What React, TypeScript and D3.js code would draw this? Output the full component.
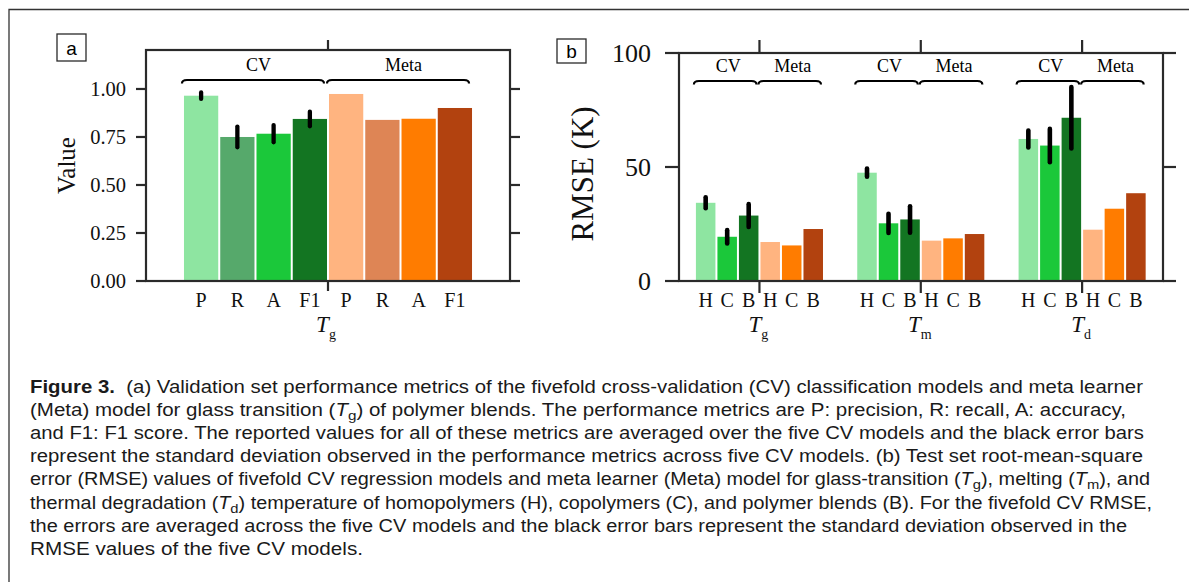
import React from 'react';
import { scaleLinear, format } from 'd3';

// panel a: classification metrics for Tg of polymer blends
const metrics = ['P', 'R', 'A', 'F1'];
const cvMetricValues = [0.965, 0.75, 0.767, 0.844];
const cvMetricErrors = [0.017, 0.054, 0.045, 0.038];
const metaMetricValues = [0.974, 0.839, 0.845, 0.901];
const metricTicks = [0, 0.25, 0.5, 0.75, 1.0];

// panel b: regression RMSE (K) per property, polymer class H / C / B
const properties = ['g', 'm', 'd'];
const polymerTypes = ['H', 'C', 'B'];
const cvRmse = [
  [34.3, 19.4, 28.7],
  [47.5, 25.3, 27.0],
  [62.3, 59.4, 71.6],
];
const cvRmseErrors = [
  [2.4, 2.9, 5.0],
  [1.8, 4.2, 5.8],
  [3.7, 7.3, 13.5],
];
const metaRmse = [
  [17.1, 15.6, 22.8],
  [17.7, 18.7, 20.6],
  [22.5, 31.7, 38.5],
];
const rmseTicks = [0, 50, 100];

const cvMetricColors = ['#8ee5a1', '#56a96b', '#1bc83a', '#137522'];
const metaMetricColors = ['#ffb480', '#de8555', '#ff7c00', '#b2420f'];
const cvTypeColors = ['#8ee5a1', '#1bc83a', '#137522'];
const metaTypeColors = ['#ffb480', '#ff7c00', '#b2420f'];

// caption lines; {sub} marks an italic T with a subscript
type Seg = string | { sub: string };
const captionLines: Seg[][] = [
  ['(a) Validation set performance metrics of the fivefold cross-validation (CV) classification models and meta learner'],
  ['(Meta) model for glass transition (', { sub: 'g' }, ') of polymer blends. The performance metrics are P: precision, R: recall, A: accuracy,'],
  ['and F1: F1 score. The reported values for all of these metrics are averaged over the five CV models and the black error bars'],
  ['represent the standard deviation observed in the performance metrics across five CV models. (b) Test set root-mean-square'],
  ['error (RMSE) values of fivefold CV regression models and meta learner (Meta) model for glass-transition (', { sub: 'g' }, '), melting (', { sub: 'm' }, '), and'],
  ['thermal degradation (', { sub: 'd' }, ') temperature of homopolymers (H), copolymers (C), and polymer blends (B). For the fivefold CV RMSE,'],
  ['the errors are averaged across the five CV models and the black error bars represent the standard deviation observed in the'],
  ['RMSE values of the five CV models.'],
];
const captionLineEnds = [1143, 1126, 1144, 1143, 1150, 1152, 1127, 363];

const SERIF = '"Liberation Serif", "Times New Roman", serif';
const SANS = '"Liberation Sans", Arial, Helvetica, sans-serif';
const INK = '#2a2a2a';
const SPINE = 2.2;

function Brace({ x0, x1, y }: { x0: number; x1: number; y: number }) {
  const d = `M${x0},${y + 3.5} Q${x0},${y} ${x0 + 5},${y} L${x1 - 5},${y} Q${x1},${y} ${x1},${y + 3.5}`;
  return <path d={d} fill="none" stroke="#000" strokeWidth={2.2} />;
}

function PanelA() {
  const left = 146, right = 510, top = 50, bottom = 281;
  const x = scaleLinear().domain([-1.52, 8.52]).range([left, right]);
  const y = scaleLinear().domain([0, 1.203]).range([bottom, top]);
  const pitch = x(1) - x(0);
  const sep = x(3.5);
  const bars = [
    ...cvMetricValues.map((v, i) => ({ v, i, c: cvMetricColors[i], err: cvMetricErrors[i], label: metrics[i] })),
    ...metaMetricValues.map((v, i) => ({ v, i: i + 4, c: metaMetricColors[i], err: 0, label: metrics[i] })),
  ];
  const groups = [
    { name: 'CV', a: -0.5, b: 3.5 },
    { name: 'Meta', a: 3.5, b: 7.5 },
  ];
  return (
    <g>
      <rect x={57} y={34} width={29} height={27} fill="#fff" stroke={INK} strokeWidth={1.3} />
      <text x={71.5} y={48} fontFamily={SANS} fontSize={19} textAnchor="middle" dominantBaseline="central">a</text>

      {bars.map((b) => (
        <rect key={b.i} x={x(b.i) - pitch / 2 + 1} y={y(b.v)} width={pitch - 2} height={bottom - y(b.v)} fill={b.c} />
      ))}
      {bars.filter((b) => b.err > 0).map((b) => (
        <line key={'e' + b.i} x1={x(b.i)} x2={x(b.i)} y1={y(b.v + b.err)} y2={y(b.v - b.err)}
          stroke="#000" strokeWidth={4.3} strokeLinecap="round" />
      ))}

      {groups.map((g) => (
        <g key={g.name}>
          <Brace x0={x(g.a) - 1} x1={x(g.b) - 4} y={80} />
          <text x={(x(g.a) + x(g.b)) / 2 + 3} y={71} fontFamily={SERIF} fontSize={18} textAnchor="middle">{g.name}</text>
        </g>
      ))}

      <rect x={left} y={top} width={right - left} height={bottom - top} fill="none" stroke={INK} strokeWidth={SPINE} />
      {metricTicks.map((t) => (
        <g key={t}>
          <line x1={left - 10} x2={left} y1={y(t)} y2={y(t)} stroke={INK} strokeWidth={SPINE} />
          <line x1={right} x2={right + 10} y1={y(t)} y2={y(t)} stroke={INK} strokeWidth={SPINE} />
          <text x={126} y={y(t)} fontFamily={SERIF} fontSize={20.5} textAnchor="end" dominantBaseline="central" fill="#111">
            {format('.2f')(t)}
          </text>
        </g>
      ))}
      <line x1={sep} x2={sep} y1={top - 10} y2={top} stroke={INK} strokeWidth={SPINE} />
      <line x1={sep} x2={sep} y1={bottom} y2={bottom + 10} stroke={INK} strokeWidth={SPINE} />

      {bars.map((b) => (
        <text key={'l' + b.i} x={x(b.i)} y={307} fontFamily={SERIF} fontSize={20} textAnchor="middle" fill="#111">{b.label}</text>
      ))}
      <text x={sep - 2} y={332} fontFamily={SERIF} fontSize={23} textAnchor="middle" fill="#111">
        <tspan fontStyle="italic">T</tspan>
        <tspan fontSize={14} dy={7}>g</tspan>
      </text>
      <text transform={`translate(75,${(top + bottom) / 2}) rotate(-90)`} fontFamily={SERIF} fontSize={25}
        textAnchor="middle" fill="#111">Value</text>
    </g>
  );
}

function PanelB() {
  const left = 679, right = 1163, top = 53, bottom = 281;
  const x = scaleLinear().domain([-3.74, 18.76]).range([left, right]);
  const y = scaleLinear().domain([0, 100]).range([bottom, top]);
  const pitch = x(1) - x(0);
  const gap = 7.5;
  return (
    <g>
      <rect x={557} y={39} width={29} height={24} fill="#fff" stroke={INK} strokeWidth={1.3} />
      <text x={571.5} y={51} fontFamily={SANS} fontSize={19} textAnchor="middle" dominantBaseline="central">b</text>

      {properties.map((p, gi) => {
        const c = gi * gap;
        const pos = (j: number) => c + j - 2.5;
        const cells = [
          ...polymerTypes.map((t, j) => ({ j, t, v: cvRmse[gi][j], err: cvRmseErrors[gi][j], col: cvTypeColors[j] })),
          ...polymerTypes.map((t, j) => ({ j: j + 3, t, v: metaRmse[gi][j], err: 0, col: metaTypeColors[j] })),
        ];
        const groups = [
          { name: 'CV', a: pos(0) - 0.5, b: pos(2) + 0.5 },
          { name: 'Meta', a: pos(3) - 0.5, b: pos(5) + 0.5 },
        ];
        return (
          <g key={p}>
            {cells.map((d) => (
              <rect key={d.j} x={x(pos(d.j)) - pitch / 2 + 1} y={y(d.v)} width={pitch - 2} height={bottom - y(d.v)} fill={d.col} />
            ))}
            {cells.filter((d) => d.err > 0).map((d) => (
              <line key={'e' + d.j} x1={x(pos(d.j))} x2={x(pos(d.j))} y1={y(d.v + d.err)} y2={y(d.v - d.err)}
                stroke="#000" strokeWidth={4.6} strokeLinecap="round" />
            ))}
            {groups.map((g) => (
              <g key={g.name}>
                <Brace x0={x(g.a) - 1} x1={x(g.b) - 3} y={81} />
                <text x={(x(g.a) + x(g.b)) / 2 + 1} y={72} fontFamily={SERIF} fontSize={18} textAnchor="middle">{g.name}</text>
              </g>
            ))}
            {cells.map((d) => (
              <text key={'l' + d.j} x={x(pos(d.j))} y={307} fontFamily={SERIF} fontSize={20} textAnchor="middle" fill="#111">{d.t}</text>
            ))}
            <line x1={x(c)} x2={x(c)} y1={top - 13} y2={top} stroke={INK} strokeWidth={SPINE} />
            <line x1={x(c)} x2={x(c)} y1={bottom} y2={bottom + 12} stroke={INK} strokeWidth={SPINE} />
            <text x={x(c) - 1} y={332} fontFamily={SERIF} fontSize={23} textAnchor="middle" fill="#111">
              <tspan fontStyle="italic">T</tspan>
              <tspan fontSize={14} dy={7}>{p}</tspan>
            </text>
          </g>
        );
      })}

      <rect x={left} y={top} width={right - left} height={bottom - top} fill="none" stroke={INK} strokeWidth={SPINE} />
      {rmseTicks.map((t) => (
        <g key={t}>
          <line x1={left - 14} x2={left} y1={y(t)} y2={y(t)} stroke={INK} strokeWidth={SPINE} />
          <line x1={right} x2={right + 13} y1={y(t)} y2={y(t)} stroke={INK} strokeWidth={SPINE} />
          <text x={651} y={y(t)} fontFamily={SERIF} fontSize={26} textAnchor="end" dominantBaseline="central" fill="#111">{t}</text>
        </g>
      ))}
      <text transform={`translate(593,${(top + bottom) / 2 + 7}) rotate(-90)`} fontFamily={SERIF} fontSize={31}
        textAnchor="middle" fill="#111">RMSE (K)</text>
    </g>
  );
}

function CaptionLine({ segs, prefix }: { segs: Seg[]; prefix?: boolean }) {
  const out: React.ReactNode[] = [];
  if (prefix) {
    out.push(<tspan key="fig" fontWeight="bold">Figure 3.</tspan>);
    out.push(<tspan key="sp">{'\u00a0 '}</tspan>);
  }
  let lowered = false;
  segs.forEach((s, k) => {
    if (typeof s === 'string') {
      out.push(<tspan key={k} dy={lowered ? -4 : undefined}>{s}</tspan>);
      lowered = false;
    } else {
      out.push(<tspan key={k + 't'} fontStyle="italic" dy={lowered ? -4 : undefined}>T</tspan>);
      out.push(<tspan key={k + 's'} fontSize={13} dy={4}>{s.sub}</tspan>);
      lowered = true;
    }
  });
  return <>{out}</>;
}

function Caption() {
  const x0 = 30, y0 = 393, lh = 23.1;
  return (
    <g fontFamily={SANS} fontSize={17.5} fill="#1a1a1a">
      {captionLines.map((segs, i) => (
        <text key={i} x={x0} y={y0 + lh * i} textLength={captionLineEnds[i] - x0} lengthAdjust="spacingAndGlyphs">
          <CaptionLine segs={segs} prefix={i === 0} />
        </text>
      ))}
    </g>
  );
}

export default function App() {
  return (
    <svg width={1189} height={582} style={{ position: 'absolute', left: 0, top: 0, background: '#fff' }}>
      <rect width={1189} height={582} fill="#fff" />
      <path d="M9,600 L9,9.5 L1200,9.5" fill="none" stroke="#333" strokeWidth={1.3} />
      <PanelA />
      <PanelB />
      <Caption />
    </svg>
  );
}
